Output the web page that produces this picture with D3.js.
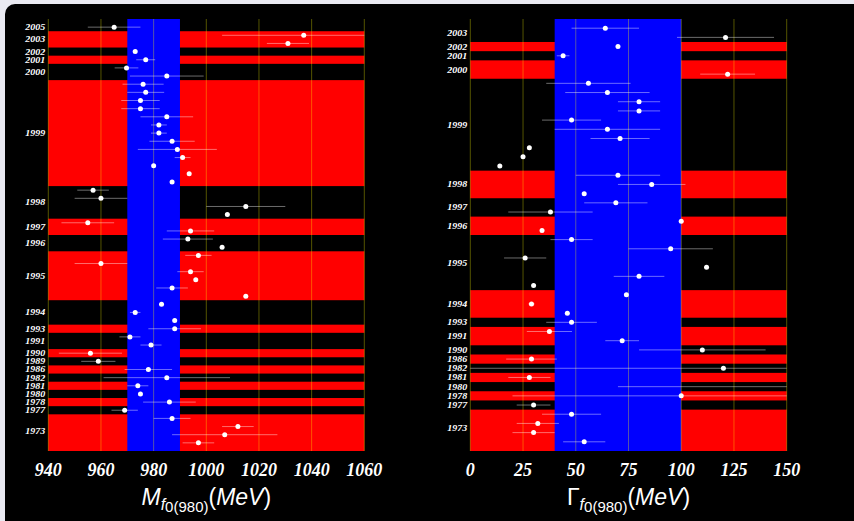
<!DOCTYPE html>
<html>
<head>
<meta charset="utf-8">
<script src="https://cdn.jsdelivr.net/npm/d3@7"></script>
<style>
html,body{margin:0;padding:0;background:#eaeaf2;overflow:hidden;}
svg{display:block;}
</style>
</head>
<body>
<svg id="chart" width="854" height="521"></svg>
<script>
// ---------- DATA ----------
// Mass panel: year of each measurement, central value, symmetric error (MeV)
const massYear = [2005, 2003, 2003, 2002, 2001, 2000, 2000,
  1999, 1999, 1999, 1999, 1999, 1999, 1999, 1999, 1999, 1999, 1999, 1999, 1999,
  1998, 1998, 1998, 1998, 1997, 1997, 1996, 1996,
  1995, 1995, 1995, 1995, 1995, 1995, 1994, 1994, 1994, 1993, 1991, 1991,
  1990, 1989, 1986, 1982, 1981, 1980, 1978, 1977, 1973, 1973, 1973, 1973];
const massValue = [965, 1037, 1031, 973, 977, 969.7, 985,
  976, 977, 975, 975, 985, 982, 982, 987, 989, 991, 980, 993.5, 987,
  957, 960, 1015, 1008, 955, 994, 993, 1006,
  997, 960, 994, 996, 987, 1015, 983, 973, 988, 988, 971, 979,
  956, 959, 978, 985, 974, 975, 986, 969, 987, 1012, 1007, 997];
const massErr = [10, 31, 8, 0, 3.6, 4.5, 14,
  7.8, 7, 7.3, 7.3, 10, 3, 3, 8.6, 15, 3, 0, 0, 0,
  6, 10, 15, 0, 10, 9, 9.5, 0,
  5, 10, 5, 0, 6, 0, 0, 2, 0, 10, 4, 4,
  12, 6.5, 9, 24, 4, 0, 10, 5, 7, 6, 20, 6];

// Width panel
const widthYear = [2003, 2003, 2002, 2001, 2000, 2000,
  1999, 1999, 1999, 1999, 1999, 1999, 1999, 1999, 1999, 1999,
  1998, 1998, 1998, 1997, 1997, 1996, 1996,
  1995, 1995, 1995, 1995, 1995, 1995, 1994, 1994, 1994, 1993, 1991, 1991,
  1990, 1986, 1982, 1981, 1980, 1978, 1977, 1973, 1973, 1973, 1973];
const widthValue = [64, 121, 70, 44, null, 122,
  56, 65, 80, 80, 48, 65, 71, 28, 25, 14,
  70, 86, 54, 69, 38, 100, 34,
  48, 95, 26, 112, 80, 30, 74, 29, 46, 48, 37.5, 72,
  110, 29, 120, 28, 170, 100, 30, 48, 32, 30, 54];
const widthErr = [16, 23, 0, 3, 0, 13,
  20, 20, 10, 10, 14, 25, 14, 0, 0, 0,
  20, 16, 0, 15, 20, 0, 0,
  10, 20, 10, 0, 12, 0, 0, 1.5, 0, 12, 10.7, 8,
  30, 12, 125, 10, 100, 80, 8, 14, 10, 10, 10];

const massTicks = [940, 960, 980, 1000, 1020, 1040, 1060];
const widthTicks = [0, 25, 50, 75, 100, 125, 150];
const massAverage = [970, 990];
const widthAverage = [40, 100];

// ---------- DRAW ----------
const svg = d3.select("#chart");
svg.append("rect").attr("x", 5).attr("y", 4).attr("width", 870).attr("height", 540)
  .attr("rx", 10).attr("fill", "#000");

const plotTop = 19, plotBottom = 451;

function panel(cfg) {
  const {id, years, values, errs, domain, range, ticks, avg} = cfg;
  const N = years.length;
  const x = d3.scaleLinear().domain(domain).range(range);
  const y = d3.scaleLinear().domain([-1, N]).range([plotTop, plotBottom]);
  const g = svg.append("g");

  g.append("clipPath").attr("id", "clip" + id).append("rect")
    .attr("x", range[0]).attr("y", plotTop).attr("width", range[1] - range[0]).attr("height", plotBottom - plotTop);

  const groups = [];
  years.forEach((yr, i) => {
    const last = groups[groups.length - 1];
    if (last && last.year === yr) last.end = i;
    else groups.push({year: yr, start: i, end: i});
  });
  groups.forEach((gr, k) => {
    gr.y0 = gr.start === 0 ? plotTop : y(gr.start - 0.5);
    gr.y1 = gr.end === N - 1 ? plotBottom : y(gr.end + 0.5);
    gr.red = k % 2 === 1;
  });

  g.selectAll("rect.band").data(groups.filter(d => d.red)).join("rect")
    .attr("class", "band")
    .attr("x", range[0]).attr("width", range[1] - range[0])
    .attr("y", d => d.y0).attr("height", d => d.y1 - d.y0)
    .attr("fill", "#ff0000");

  g.append("rect").attr("x", x(avg[0])).attr("width", x(avg[1]) - x(avg[0]))
    .attr("y", plotTop).attr("height", plotBottom - plotTop).attr("fill", "#0000ff");

  g.selectAll("line.grid").data(ticks).join("line")
    .attr("class", "grid")
    .attr("x1", d => x(d)).attr("x2", d => x(d))
    .attr("y1", plotTop).attr("y2", plotBottom)
    .attr("stroke", "rgba(255,255,0,0.33)").attr("stroke-width", 1);

  g.selectAll("text.yr").data(groups).join("text")
    .attr("class", "yr")
    .attr("transform", d => `translate(${range[0] - 3},${(y(d.start) + y(d.end)) / 2}) scale(1,0.85)`)
    .attr("dy", "0.35em")
    .attr("text-anchor", "end")
    .attr("font-family", "'Liberation Serif', 'Times New Roman', serif")
    .attr("font-style", "italic").attr("font-weight", "bold")
    .attr("font-size", 10).attr("fill", "#fff")
    .text(d => d.year);

  const pts = values.map((v, i) => ({v, e: errs[i], i})).filter(d => d.v !== null);
  const pg = g.append("g").attr("clip-path", `url(#clip${id})`);
  pg.selectAll("line.err").data(pts.filter(d => d.e > 0)).join("line")
    .attr("class", "err")
    .attr("x1", d => x(d.v - d.e)).attr("x2", d => x(d.v + d.e))
    .attr("y1", d => y(d.i)).attr("y2", d => y(d.i))
    .attr("stroke", "rgba(255,255,255,0.42)").attr("stroke-width", 1);
  pg.selectAll("circle").data(pts).join("circle")
    .attr("cx", d => x(d.v)).attr("cy", d => y(d.i)).attr("r", 2.5)
    .attr("fill", "#fff");

  g.selectAll("text.tk").data(ticks).join("text")
    .attr("class", "tk")
    .attr("x", d => x(d)).attr("y", 476)
    .attr("text-anchor", "middle")
    .attr("font-family", "'Liberation Serif', 'Times New Roman', serif")
    .attr("font-style", "italic").attr("font-weight", "bold")
    .attr("font-size", 18).attr("fill", "#fff")
    .text(d => d);

  const t = g.append("text").attr("x", (range[0] + range[1]) / 2).attr("y", 505)
    .attr("text-anchor", "middle")
    .attr("font-family", "'Liberation Sans', Arial, sans-serif")
    .attr("font-size", 23).attr("fill", "#fff");
  t.append("tspan").attr("font-style", cfg.symItalic ? "italic" : "normal").text(cfg.sym);
  t.append("tspan").attr("font-size", 16).attr("font-style", "italic").attr("dy", 5).text("f");
  t.append("tspan").attr("font-size", 15).attr("dy", 2).text("0(980)");
  t.append("tspan").attr("dy", -7).text("(");
  t.append("tspan").attr("font-style", "italic").text("MeV");
  t.append("tspan").text(")");
}

panel({id: "m", years: massYear, values: massValue, errs: massErr,
  domain: [940, 1060], range: [48.3, 364.3], ticks: massTicks, avg: massAverage,
  sym: "M", symItalic: true});
panel({id: "w", years: widthYear, values: widthValue, errs: widthErr,
  domain: [0, 150], range: [470.3, 786.7], ticks: widthTicks, avg: widthAverage,
  sym: "Γ", symItalic: false});
</script>
</body>
</html>
